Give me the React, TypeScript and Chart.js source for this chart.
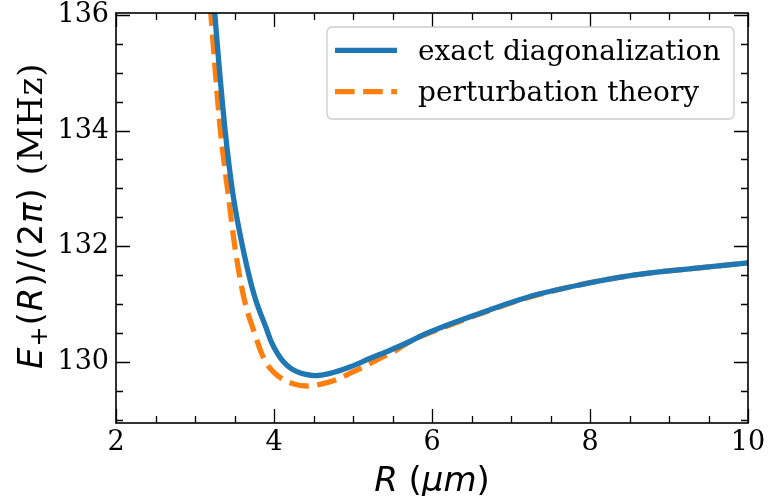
import React, { useEffect, useRef } from "react";
import { Chart, registerables } from "chart.js";

Chart.register(...registerables);

// ---------- data ----------
const X_MIN = 2;
const X_MAX = 10;
const Y_MIN = 128.94;
const Y_MAX = 136.035;

const X_TICKS = [2, 4, 6, 8, 10];
const Y_TICKS = [130, 132, 134, 136];
const X_MINOR = [2.5, 3, 3.5, 4.5, 5, 5.5, 6.5, 7, 7.5, 8.5, 9, 9.5];
const Y_MINOR = [129, 129.5, 130.5, 131, 131.5, 132.5, 133, 133.5, 134.5, 135, 135.5];

const SERIES_LABELS = ["exact diagonalization", "perturbation theory"];

const R_EXACT = [3.15, 3.25, 3.3, 3.38, 3.48, 3.61, 3.75, 3.91, 3.97, 4.05, 4.12, 4.2, 4.29, 4.4, 4.52, 4.71, 4.96, 5.22, 5.47, 5.72, 5.93, 6.61, 7.24, 7.87, 8.51, 9.35, 10.0];
const E_EXACT = [137.6, 136.03, 135.2, 134.02, 132.9, 131.94, 131.15, 130.55, 130.33, 130.13, 130.0, 129.9, 129.83, 129.78, 129.76, 129.8, 129.91, 130.06, 130.2, 130.35, 130.49, 130.84, 131.13, 131.33, 131.49, 131.62, 131.71];

const R_PERT = [3.1, 3.2, 3.25, 3.32, 3.42, 3.51, 3.62, 3.74, 3.86, 3.93, 4.01, 4.12, 4.24, 4.41, 4.58, 4.77, 4.96, 5.13, 5.34, 5.51, 5.76, 5.97, 6.61, 7.24, 7.87, 8.51, 9.35, 10.0];
const E_PERT = [137.6, 136.03, 135.15, 134.02, 132.9, 131.94, 131.1, 130.55, 130.09, 129.92, 129.8, 129.69, 129.62, 129.58, 129.61, 129.68, 129.8, 129.91, 130.06, 130.17, 130.38, 130.5, 130.83, 131.12, 131.33, 131.49, 131.62, 131.71];

const BLUE = "#1f77b4";
const ORANGE = "#ff7f0e";
const LW = 5.3;
const DASH = [19.6, 8.5];

const toPoints = (xs: number[], ys: number[]) => xs.map((x, i) => ({ x, y: ys[i] }));

const SANS = "'DejaVu Sans'";
const SERIF = "'DejaVu Serif'";

const zeroPadding = (s: any) => {
  s.paddingTop = 0;
  s.paddingBottom = 0;
  s.paddingLeft = 0;
  s.paddingRight = 0;
};

const decorPlugin = {
  id: "decor",
  afterDatasetsDraw(chart: any) {
    const { ctx, chartArea: a, scales } = chart;
    const xs = scales.x;
    const ys = scales.y;
    ctx.save();
    ctx.strokeStyle = "#000";
    ctx.lineWidth = 1.3;
    const drawX = (vals: number[], len: number) => {
      for (const v of vals) {
        const p = Math.round(xs.getPixelForValue(v)) + 0.5;
        ctx.moveTo(p, a.bottom);
        ctx.lineTo(p, a.bottom - len);
        ctx.moveTo(p, a.top);
        ctx.lineTo(p, a.top + len);
      }
    };
    const drawY = (vals: number[], len: number) => {
      for (const v of vals) {
        const p = Math.round(ys.getPixelForValue(v)) + 0.5;
        ctx.moveTo(a.left, p);
        ctx.lineTo(a.left + len, p);
        ctx.moveTo(a.right, p);
        ctx.lineTo(a.right - len, p);
      }
    };
    ctx.beginPath();
    drawX(X_TICKS, 14);
    drawX(X_MINOR, 7);
    drawY(Y_TICKS, 14);
    drawY(Y_MINOR, 7);
    ctx.stroke();
    ctx.lineWidth = 1.6;
    ctx.strokeRect(a.left, a.top, a.right - a.left, a.bottom - a.top);
    ctx.restore();
  },
  afterDraw(chart: any) {
    const { ctx, chartArea: a } = chart;
    ctx.save();
    ctx.fillStyle = "#000";
    ctx.textAlign = "left";
    ctx.textBaseline = "alphabetic";

    // ----- y axis title -----
    ctx.save();
    ctx.translate(42, 369);
    ctx.rotate(-Math.PI / 2);
    let cx = 0;
    const seg = (t: string, font: string, dy = 0, gap = 1) => {
      ctx.font = font;
      for (const ch of t) {
        ctx.fillText(ch, cx, dy);
        cx += ctx.measureText(ch).width + gap;
      }
    };
    seg("E", `italic 34px ${SANS}`);
    seg("+", `24px ${SANS}`, 5);
    seg("(", `34px ${SANS}`);
    seg("R", `italic 34px ${SANS}`);
    seg(")/(2", `34px ${SANS}`);
    seg("π", `italic 34px ${SANS}`);
    seg(")", `34px ${SANS}`);
    seg(" (MHz)", `34px ${SERIF}`, 0, 0.8);
    ctx.restore();

    // ----- x axis title -----
    const parts: [string, string][] = [
      ["R", `italic 34px ${SANS}`],
      [" (", `34px ${SANS}`],
      ["μm", `italic 34px ${SANS}`],
      [")", `34px ${SANS}`],
    ];
    let total = 0;
    for (const [t, f] of parts) {
      ctx.font = f;
      total += ctx.measureText(t).width;
    }
    let px = (a.left + a.right) / 2 - total / 2;
    for (const [t, f] of parts) {
      ctx.font = f;
      ctx.fillText(t, px, 491);
      px += ctx.measureText(t).width;
    }

    // ----- legend -----
    const lx = 327, ly = 27, lw = 407, lh = 92, r = 5;
    ctx.beginPath();
    ctx.moveTo(lx + r, ly);
    ctx.arcTo(lx + lw, ly, lx + lw, ly + lh, r);
    ctx.arcTo(lx + lw, ly + lh, lx, ly + lh, r);
    ctx.arcTo(lx, ly + lh, lx, ly, r);
    ctx.arcTo(lx, ly, lx + lw, ly, r);
    ctx.closePath();
    ctx.fillStyle = "rgba(255,255,255,0.8)";
    ctx.fill();
    ctx.strokeStyle = "#cccccc";
    ctx.lineWidth = 1.3;
    ctx.stroke();

    const rows = [
      { y: 50.3, color: BLUE, dash: [] as number[] },
      { y: 91.7, color: ORANGE, dash: DASH },
    ];
    rows.forEach((row, i) => {
      ctx.beginPath();
      ctx.setLineDash(row.dash);
      ctx.strokeStyle = row.color;
      ctx.lineWidth = LW;
      ctx.lineCap = "butt";
      ctx.moveTo(335, row.y);
      ctx.lineTo(397, row.y);
      ctx.stroke();
      ctx.setLineDash([]);
      ctx.fillStyle = "#000";
      ctx.font = `28px ${SERIF}`;
      ctx.fillText(SERIES_LABELS[i], 418, row.y + 9.5);
    });
    ctx.restore();
  },
};

export default function App() {
  const ref = useRef<HTMLCanvasElement | null>(null);

  useEffect(() => {
    document.body.style.margin = "0";
    const canvas = ref.current;
    if (!canvas) return;
    const chart = new Chart(canvas, {
      type: "line",
      data: {
        datasets: [
          {
            label: SERIES_LABELS[0],
            data: toPoints(R_EXACT, E_EXACT),
            borderColor: BLUE,
            borderWidth: LW,
            pointRadius: 0,
            fill: false,
            cubicInterpolationMode: "monotone",
            clip: 0,
          } as any,
          {
            label: SERIES_LABELS[1],
            data: toPoints(R_PERT, E_PERT),
            borderColor: ORANGE,
            borderWidth: LW,
            borderDash: DASH,
            pointRadius: 0,
            fill: false,
            cubicInterpolationMode: "monotone",
            clip: 0,
          } as any,
        ],
      },
      options: {
        responsive: false,
        animation: false,
        devicePixelRatio: 1,
        layout: { padding: { left: 0, right: 20, top: 13, bottom: 0 } },
        plugins: {
          legend: { display: false },
          tooltip: { enabled: false },
        },
        scales: {
          x: {
            type: "linear",
            min: X_MIN,
            max: X_MAX,
            grid: { display: false, drawTicks: false, tickLength: 0 },
            border: { display: false },
            ticks: {
              color: "#000",
              padding: 6,
              maxRotation: 0,
              font: { family: "DejaVu Serif", size: 27, lineHeight: 1 },
            },
            afterBuildTicks: (s: any) => {
              s.ticks = X_TICKS.map((v) => ({ value: v }));
            },
            afterFit: (s: any) => {
              s.height = 73;
              zeroPadding(s);
            },
          },
          y: {
            type: "linear",
            min: Y_MIN,
            max: Y_MAX,
            grid: { display: false, drawTicks: false, tickLength: 0 },
            border: { display: false },
            ticks: {
              color: "#000",
              padding: 7,
              font: { family: "DejaVu Serif", size: 27, lineHeight: 1 },
            },
            afterBuildTicks: (s: any) => {
              s.ticks = Y_TICKS.map((v) => ({ value: v }));
            },
            afterFit: (s: any) => {
              s.width = 116;
              zeroPadding(s);
            },
          },
        },
      },
      plugins: [decorPlugin],
    });
    return () => chart.destroy();
  }, []);

  return (
    <div style={{ position: "absolute", left: 0, top: 0, width: 768, height: 496, background: "#fff" }}>
      <canvas ref={ref} width={768} height={496} style={{ display: "block" }} />
    </div>
  );
}
